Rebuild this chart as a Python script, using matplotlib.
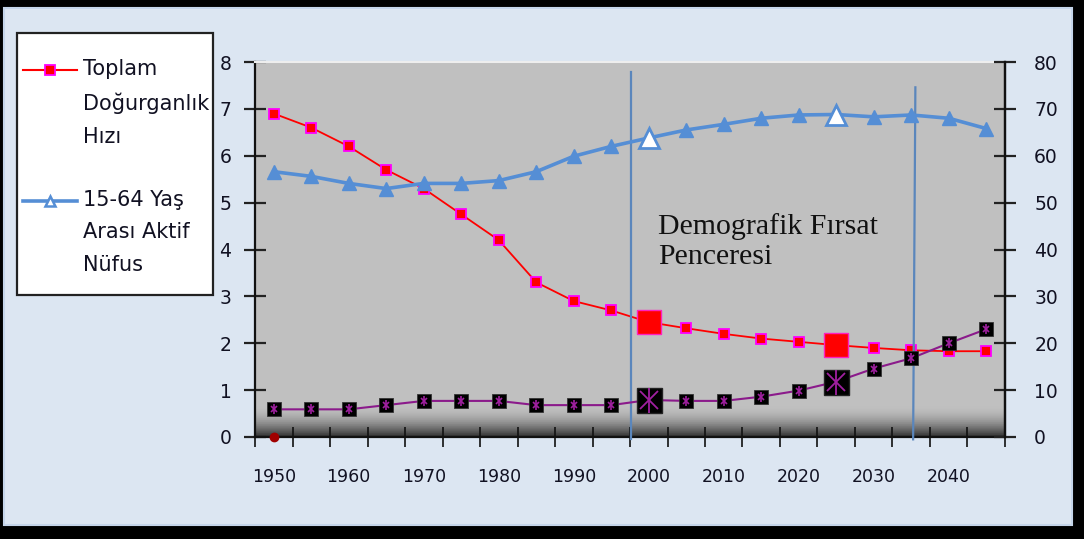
import numpy as np
import matplotlib.pyplot as plt
from matplotlib.lines import Line2D
from matplotlib.patches import Rectangle

# Veriler (5 yillik araliklar)
years = list(range(1950, 2050, 5))
dogurganlik = [6.9, 6.6, 6.2, 5.7, 5.3, 4.75, 4.2, 3.3, 2.9, 2.7,
               2.45, 2.32, 2.2, 2.1, 2.03, 1.96, 1.9, 1.85, 1.83, 1.83]
aktif_nufus = [56.6, 55.6, 54.1, 53.0, 54.1, 54.1, 54.7, 56.6, 59.9, 62.0,
               63.8, 65.5, 66.7, 68.0, 68.7, 68.8, 68.3, 68.7, 68.0, 65.8]
yasli_nufus = [5.9, 5.9, 5.9, 6.8, 7.7, 7.7, 7.7, 6.8, 6.8, 6.8,
               7.9, 7.7, 7.7, 8.6, 9.9, 11.8, 14.6, 16.8, 20.0, 23.0]
vurgu_yillari = [2000, 2025]
pencere = [1997.6, 2035.4]
tick_labels = [str(y) for y in range(1950, 2050, 10)]

idx = np.arange(len(years))
vurgu_idx = [years.index(y) for y in vurgu_yillari]

def yil_to_idx(y):
    return (y - years[0]) / 5.0

fig = plt.figure(figsize=(10.84, 5.39), dpi=100)
fig.patch.set_facecolor('black')

# acik mavi panel
fig.patches.append(Rectangle((4 / 1084, 14 / 539), 1068 / 1084, 517 / 539,
                             transform=fig.transFigure, facecolor='#DCE6F2',
                             edgecolor='#C5D5EA', lw=1.5, zorder=-5))

ax = fig.add_axes([255 / 1084, 1 - 437 / 539, 750 / 1084, 375 / 539])
ax.set_facecolor('#C0C0C0')

# alt kisimdaki koyu gecis
grad = np.ones((200, 1, 3)) * 0.753
n = 16
for i in range(n):
    t = (i + 1) / n
    grad[200 - n + i, 0, :] = 0.753 - 0.55 * t ** 1.8
ax.imshow(grad, extent=(0, 1, 0, 1), transform=ax.transAxes, aspect='auto', zorder=0)

ax.plot(idx, dogurganlik, color='#FF0000', lw=1.3, marker='s', markersize=6.5,
        markerfacecolor='#FF0000', markeredgecolor='#FF00FF', markeredgewidth=1.3, zorder=3)
ax.plot(vurgu_idx, [dogurganlik[i] for i in vurgu_idx], ls='none', marker='s', markersize=17,
        markerfacecolor='#FF0000', markeredgecolor='#FF20C0', markeredgewidth=1, zorder=4)
ax.plot([0], [0], ls='none', marker='o', markersize=6, color='#A00000', zorder=6, clip_on=False)

ax.set_xlim(-0.5, len(years) - 0.5)
ax.set_ylim(0, 8)
ax.set_yticks(range(0, 9))
ax.set_xticks(np.arange(-0.5, len(years), 1))
ax.set_xticklabels([])
ax.set_xticks(idx[::2], minor=True)
ax.set_xticklabels(tick_labels, minor=True)
ax.tick_params(axis='x', which='major', direction='inout', length=14, width=1.2, color='#111111')
ax.tick_params(axis='x', which='minor', length=0, pad=22, labelsize=12.5, labelcolor='#111122')
ax.tick_params(axis='y', direction='inout', length=16, width=1.6, color='#222222',
               pad=9, labelsize=13.5, labelcolor='#111122')
for s in ['left', 'bottom', 'right']:
    ax.spines[s].set_color('#111111')
    ax.spines[s].set_linewidth(1.6)
ax.spines['top'].set_color('#EEEEEE')
ax.spines['top'].set_linewidth(1.5)

ax2 = ax.twinx()
ax2.set_ylim(0, 80)
ax2.set_yticks(range(0, 90, 10))
ax2.tick_params(axis='y', direction='inout', length=16, width=1.6, color='#222222',
                pad=13, labelsize=13.5, labelcolor='#111122')
ax2.spines['right'].set_color('#111111')
ax2.spines['right'].set_linewidth(1.6)
ax2.spines['top'].set_visible(False)
ax2.spines['left'].set_visible(False)
ax2.spines['bottom'].set_visible(False)

# firsat penceresi cizgileri
ax2.plot([yil_to_idx(pencere[0])] * 2, [-0.5, 77.8], color='#5A86BC', lw=1.6, zorder=2, clip_on=False)
ax2.plot([yil_to_idx(pencere[1]) - 0.03, yil_to_idx(pencere[1]) + 0.03], [-0.5, 74.6],
         color='#5A86BC', lw=1.6, zorder=2, clip_on=False)

ax2.plot(idx, aktif_nufus, color='#558ED5', lw=2.6, marker='^', markersize=10,
         markerfacecolor='#558ED5', markeredgecolor='#558ED5', zorder=4)
ax2.plot(vurgu_idx, [aktif_nufus[i] for i in vurgu_idx], ls='none', marker='^', markersize=15,
         markerfacecolor='white', markeredgecolor='#558ED5', markeredgewidth=2, zorder=5)

ax2.plot(idx, yasli_nufus, color='#8B1A8B', lw=1.5, marker='s', markersize=9.5,
         markerfacecolor='black', markeredgecolor='#333333', markeredgewidth=0.6, zorder=4)
ax2.plot(idx, yasli_nufus, ls='none', marker='x', markersize=5, color='#A020A0', mew=1.2, zorder=5)
ax2.plot(idx, yasli_nufus, ls='none', marker='|', markersize=7, color='#A020A0', mew=1.2, zorder=5)
ax2.plot(vurgu_idx, [yasli_nufus[i] for i in vurgu_idx], ls='none', marker='s', markersize=18,
         markerfacecolor='black', markeredgecolor='#222222', zorder=6)
ax2.plot(vurgu_idx, [yasli_nufus[i] for i in vurgu_idx], ls='none', marker='x', markersize=13,
         color='#A020A0', mew=1.3, zorder=7)
ax2.plot(vurgu_idx, [yasli_nufus[i] for i in vurgu_idx], ls='none', marker='|', markersize=18,
         color='#A020A0', mew=1.3, zorder=7)

ax2.text(yil_to_idx(2001.2), 47.8, 'Demografik Fırsat\nPenceresi', family='Liberation Serif',
         fontsize=21.5, color='#111111', va='top', ha='left', linespacing=1.2, zorder=8)

# aciklama kutusu
fig.patches.append(Rectangle((17 / 1084, 1 - 295 / 539), 196 / 1084, 262 / 539,
                             transform=fig.transFigure, facecolor='white',
                             edgecolor='#222222', lw=1.6, zorder=5))
fig.lines.append(Line2D([23 / 1084, 77 / 1084], [1 - 70 / 539] * 2, transform=fig.transFigure,
                        color='#FF0000', lw=1.5, zorder=6))
fig.lines.append(Line2D([50 / 1084], [1 - 70 / 539], transform=fig.transFigure, ls='none',
                        marker='s', markersize=6.5, markerfacecolor='#FF0000',
                        markeredgecolor='#FF00FF', markeredgewidth=1.3, zorder=7))
fig.lines.append(Line2D([23 / 1084, 77 / 1084], [1 - 201 / 539] * 2, transform=fig.transFigure,
                        color='#558ED5', lw=2.6, zorder=6))
fig.lines.append(Line2D([50 / 1084], [1 - 201 / 539], transform=fig.transFigure, ls='none',
                        marker='^', markersize=7, markerfacecolor='white',
                        markeredgecolor='#558ED5', markeredgewidth=1.8, zorder=7))
fig.text(83 / 1084, 1 - 59 / 539, 'Toplam\nDoğurganlık\nHızı', fontsize=15, color='#111122',
         va='top', ha='left', linespacing=1.78, zorder=8)
fig.text(83 / 1084, 1 - 190 / 539, '15-64 Yaş\nArası Aktif\nNüfus', fontsize=15, color='#111122',
         va='top', ha='left', linespacing=1.78, zorder=8)

fig.savefig('out.png', dpi=100, facecolor=fig.get_facecolor())
